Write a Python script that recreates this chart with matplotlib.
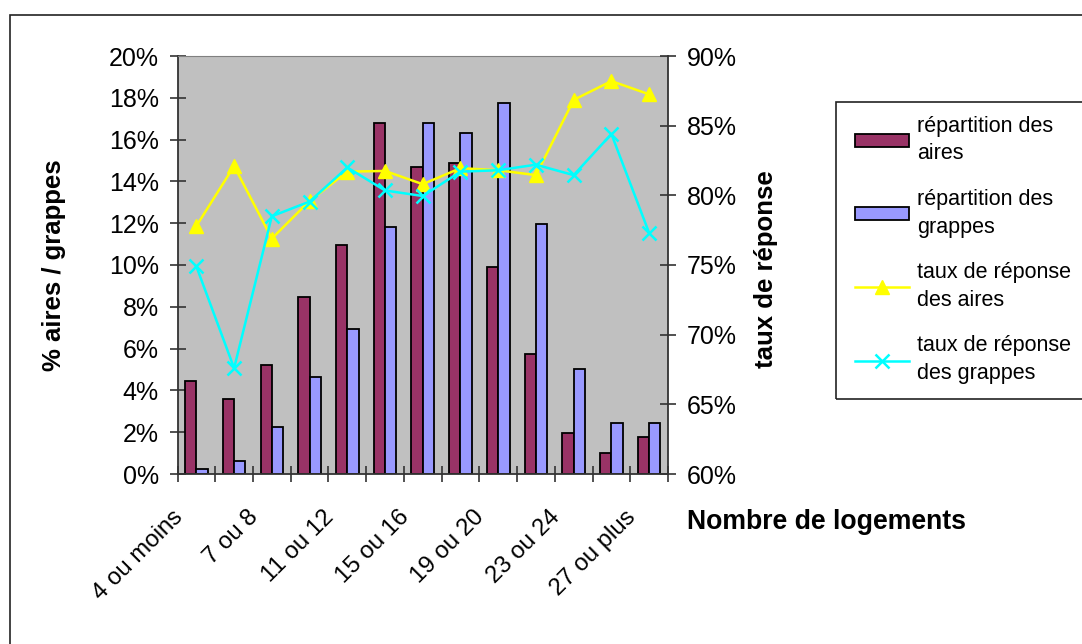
import matplotlib.pyplot as plt
from matplotlib.patches import Rectangle, Patch
from matplotlib.lines import Line2D
from matplotlib.transforms import ScaledTranslation
import numpy as np

plt.rcParams['font.family'] = ['Liberation Sans', 'DejaVu Sans']

categories = ["4 ou moins", "5 ou 6", "7 ou 8", "9 ou 10", "11 ou 12", "13 ou 14",
              "15 ou 16", "17 ou 18", "19 ou 20", "21 ou 22", "23 ou 24", "25 ou 26",
              "27 ou plus"]
rep_aires = [4.46, 3.6, 5.23, 8.48, 10.97, 16.8, 14.7, 14.9, 9.92, 5.73, 1.98, 1.02, 1.78]
rep_grappes = [0.25, 0.64, 2.26, 4.66, 6.95, 11.83, 16.8, 16.33, 17.77, 11.95, 5.04, 2.44, 2.44]
taux_aires = [77.8, 82.1, 76.9, 79.6, 81.7, 81.75, 80.8, 81.95, 81.8, 81.45, 86.85, 88.2, 87.25]
taux_grappes = [74.9, 67.6, 78.5, 79.55, 82.0, 80.35, 79.95, 81.7, 81.8, 82.2, 81.45, 84.4, 77.3]

W, H = 1082, 644
dpi = 100
fig = plt.figure(figsize=(W / dpi, H / dpi), dpi=dpi)

# outer chart frame (clipped at right and bottom like the original)
fig.patches.append(Rectangle((10 / W, -0.1), 1.2, 1 - 15 / H + 0.1, transform=fig.transFigure,
                             fill=False, edgecolor='#222222', linewidth=1.2))

left_px, right_px, top_px, bottom_px = 177.5, 668, 56, 474
ax = fig.add_axes([left_px / W, 1 - bottom_px / H, (right_px - left_px) / W, (bottom_px - top_px) / H])
ax.set_facecolor('#C0C0C0')

n = len(categories)
x = np.arange(n) + 0.5
bw = 0.3
ax.bar(x - bw / 2, rep_aires, bw, color='#993366', edgecolor='black', linewidth=1.3, zorder=2)
ax.bar(x + bw / 2, rep_grappes, bw, color='#9999FF', edgecolor='black', linewidth=1.3, zorder=2)
ax.set_xlim(0, n)
ax.set_ylim(0, 20)
ax.set_yticks(np.arange(0, 21, 2))
ax.set_yticklabels([f"{v}%" for v in range(0, 21, 2)])

# x ticks at category boundaries, labels every second category
ax.set_xticks(np.arange(0, n + 1))
ax.set_xticklabels([])
off = ScaledTranslation(-17 / dpi, -40 / dpi, fig.dpi_scale_trans)
for xi, lab in zip(x[::2], categories[::2]):
    ax.text(xi, 0, lab, transform=ax.get_xaxis_transform() + off, rotation=45,
            ha='right', va='center', rotation_mode='anchor', fontsize=17.3)
ax.tick_params(axis='both', which='major', direction='inout', length=11, width=1.2,
               color='#333333', labelsize=18)
ax.tick_params(axis='y', pad=8)

for s in ['left', 'bottom']:
    ax.spines[s].set_color('#333333')
    ax.spines[s].set_linewidth(1.3)
ax.spines['top'].set_color('#808080')
ax.spines['right'].set_visible(False)

ax2 = ax.twinx()
ax2.plot(x, taux_aires, color='#FFFF00', linewidth=1.8, marker='^', markersize=10, zorder=3)
ax2.plot(x, taux_grappes, color='#00FFFF', linewidth=1.8, marker='x', markersize=10,
         markeredgewidth=1.8, zorder=3)
ax2.set_ylim(60, 90)
ax2.set_yticks(np.arange(60, 91, 5))
ax2.set_yticklabels([f"{v}%" for v in range(60, 91, 5)])
ax2.tick_params(axis='y', direction='inout', length=11, width=1.2, color='#333333',
                labelsize=18, pad=8)
ax2.spines['right'].set_color('#333333')
ax2.spines['right'].set_linewidth(1.3)
for s in ['left', 'top', 'bottom']:
    ax2.spines[s].set_visible(False)

# axis titles
fig.text(54 / W, 1 - 265 / H, "% aires / grappes", rotation=90, ha='center', va='center',
         fontsize=18.5, fontweight='bold')
fig.text(766 / W, 1 - 269 / H, "taux de réponse", rotation=90, ha='center', va='center',
         fontsize=18.5, fontweight='bold')
fig.text(687 / W, 1 - 522 / H, "Nombre de logements", ha='left', va='center',
         fontsize=19.2, fontweight='bold')

# legend
fig.patches.append(Rectangle((836 / W, 1 - 399 / H), 0.5, (399 - 102.5) / H,
                             transform=fig.transFigure, fill=False, edgecolor='#222222',
                             linewidth=1.2))
handles = [Patch(facecolor='#993366', edgecolor='black', linewidth=1.3),
           Patch(facecolor='#9999FF', edgecolor='black', linewidth=1.3),
           Line2D([], [], color='#FFFF00', linewidth=1.8, marker='^', markersize=10),
           Line2D([], [], color='#00FFFF', linewidth=1.8, marker='x', markersize=10,
                  markeredgewidth=1.8)]
labels = ["répartition des\naires", "répartition des\ngrappes",
          "taux de réponse\ndes aires", "taux de réponse\ndes grappes"]
leg = fig.legend(handles, labels, loc='upper left', bbox_to_anchor=(855 / W, 1 - 116 / H),
                 frameon=False, fontsize=15.5, handlelength=2.5, handleheight=0.56,
                 handletextpad=0.37, labelspacing=1.15, borderaxespad=0, borderpad=0)
for t in leg.get_texts():
    t.set_linespacing(1.4)

fig.savefig("out.png", dpi=dpi)
